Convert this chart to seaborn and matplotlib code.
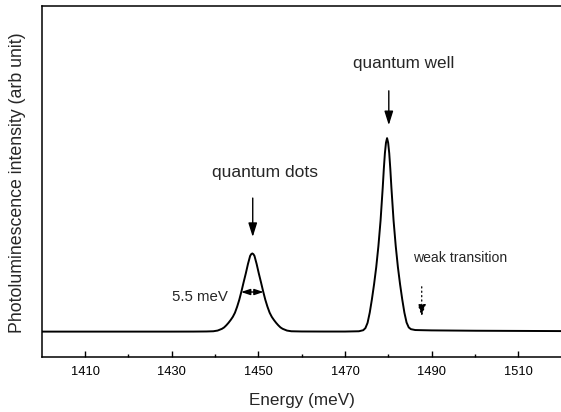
import matplotlib
matplotlib.use("Agg")
import matplotlib.pyplot as plt
import seaborn as sns
import pandas as pd

# ---- data (energy in meV, intensity in arb. units) ----
energy_meV = [
    1400.0, 1410.0, 1420.0, 1430.0, 1435.0, 1438.0,
    # quantum-dot peak
    1439.6, 1440.6, 1441.6, 1442.1, 1442.6, 1443.1, 1443.6, 1444.1, 1444.6,
    1445.1, 1445.6, 1446.1, 1446.6, 1447.1, 1447.6, 1448.1, 1448.35, 1448.6,
    1448.85, 1449.1, 1449.6, 1450.1, 1450.6, 1451.1, 1451.6, 1452.1, 1452.6,
    1453.1, 1453.6, 1454.1, 1454.6, 1455.1, 1455.6, 1456.6, 1457.6,
    1460.0, 1465.0, 1470.0,
    # quantum-well peak
    1473.2, 1474.2, 1474.7, 1475.2, 1475.7, 1476.2, 1476.7, 1477.2, 1477.7,
    1478.2, 1478.7, 1478.95, 1479.2, 1479.45, 1479.7, 1479.95, 1480.2,
    1480.45, 1480.7, 1481.2, 1481.7, 1482.2, 1482.7, 1483.2, 1483.7, 1484.2,
    1484.7, 1485.2, 1486.2,
    1488.0, 1490.0, 1495.0, 1500.0, 1510.0, 1520.0,
]
intensity = [
    0.071, 0.071, 0.071, 0.071, 0.0711, 0.0714,
    0.072, 0.074, 0.079, 0.083, 0.089, 0.096, 0.104, 0.113, 0.125,
    0.142, 0.162, 0.186, 0.212, 0.237, 0.264, 0.287, 0.292, 0.294,
    0.292, 0.287, 0.264, 0.237, 0.212, 0.186, 0.162, 0.142, 0.125,
    0.113, 0.104, 0.096, 0.089, 0.083, 0.079, 0.074, 0.072,
    0.0714, 0.0712, 0.0712,
    0.072, 0.075, 0.081, 0.096, 0.125, 0.163, 0.206, 0.255, 0.315,
    0.388, 0.482, 0.535, 0.580, 0.610, 0.623, 0.610, 0.580,
    0.535, 0.482, 0.388, 0.315, 0.255, 0.206, 0.163, 0.125, 0.097,
    0.083, 0.078, 0.0755,
    0.075, 0.0745, 0.074, 0.0735, 0.073, 0.0725,
]
major_ticks = [1410, 1430, 1450, 1470, 1490, 1510]
minor_ticks = [1420, 1440, 1460, 1480, 1500]
tick_labels = ["1410", "1430", "1450", "1470", "1490", "1510"]

df = pd.DataFrame({"Energy": energy_meV, "Intensity": intensity})

sns.set_theme(style="ticks")
plt.rcParams["font.family"] = ["Liberation Sans", "DejaVu Sans"]

W, H = 561, 412
fig = plt.figure(figsize=(W / 100, H / 100), dpi=100)
ax = fig.add_axes([41.7 / W, 55.5 / H, (561.7 - 41.7) / W, 350.5 / H])

sns.lineplot(data=df, x="Energy", y="Intensity", color="black", lw=1.4,
             ax=ax, sort=True, estimator=None)

ax.set_xlim(1400, 1520)
ax.set_ylim(0, 1)
ax.set_yticks([])
ax.set_xticks(major_ticks)
ax.set_xticklabels(tick_labels, fontsize=9.3)
ax.set_xticks(minor_ticks, minor=True)
ax.tick_params(axis="x", which="major", direction="in", length=4.6, width=1.0,
               pad=7, colors="black")
ax.tick_params(axis="x", which="minor", direction="in", length=2.2, width=1.0,
               colors="black")

for s in ["left", "bottom", "top"]:
    ax.spines[s].set_linewidth(1.1)
    ax.spines[s].set_color("black")
ax.spines["right"].set_visible(False)

ax.set_xlabel("Energy (meV)", fontsize=12.3, labelpad=11)
ax.set_ylabel("Photoluminescence intensity (arb unit)", fontsize=12.8)
ax.yaxis.set_label_coords(-0.031, 0.496)

# ---- annotations ----
ax.text(1451.5, 0.526, "quantum dots", fontsize=12.6, ha="center", va="center")
ax.annotate("", xy=(1448.7, 0.341), xytext=(1448.7, 0.452),
            arrowprops=dict(arrowstyle="-|>,head_length=0.7,head_width=0.22",
                            color="black", lw=1.0, shrinkA=0, shrinkB=0))

ax.text(1483.6, 0.8365, "quantum well", fontsize=12.3, ha="center", va="center")
ax.annotate("", xy=(1480.1, 0.660), xytext=(1480.1, 0.758),
            arrowprops=dict(arrowstyle="-|>,head_length=0.7,head_width=0.22",
                            color="black", lw=1.0, shrinkA=0, shrinkB=0))

ax.text(1485.8, 0.280, "weak transition", fontsize=10.1, ha="left", va="center")
ax.annotate("", xy=(1487.7, 0.1136), xytext=(1487.7, 0.199),
            arrowprops=dict(arrowstyle="-|>,head_length=0.6,head_width=0.2",
                            color="black", lw=0.9, ls=(0, (1, 2.5)),
                            shrinkA=0, shrinkB=0))

ax.text(1442.9, 0.1706, "5.5 meV", fontsize=10.8, ha="right", va="center")
ax.annotate("", xy=(1446.0, 0.184), xytext=(1451.2, 0.184),
            arrowprops=dict(arrowstyle="<|-|>,head_length=0.45,head_width=0.15",
                            color="black", lw=1.0, shrinkA=0, shrinkB=0))

fig.savefig("out.png", dpi=100)
